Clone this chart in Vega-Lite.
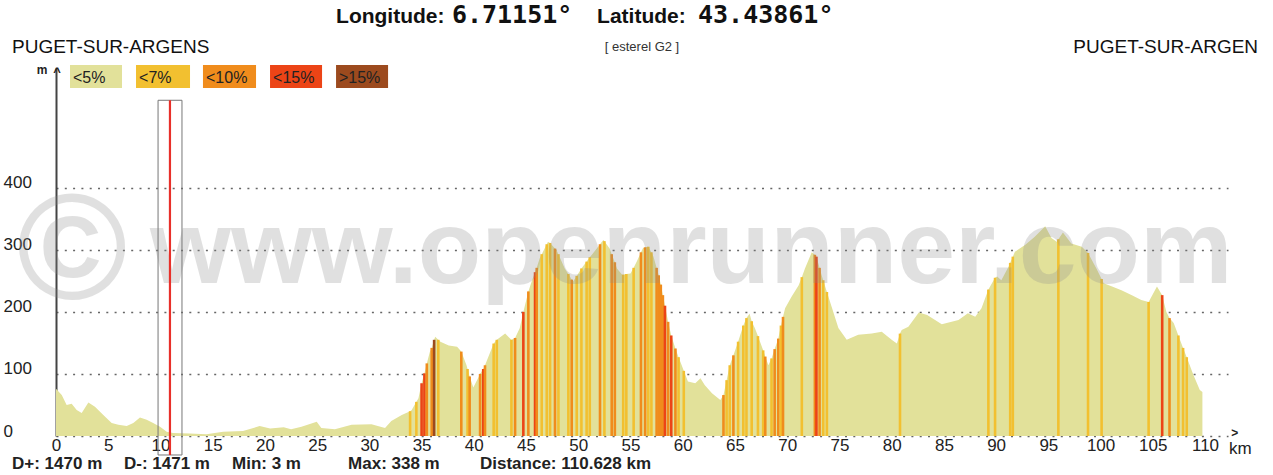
{
"$schema": "https://vega.github.io/schema/vega-lite/v6.json",
"width": 1172, "height": 368,
"autosize": {"type": "none"},
"padding": {"left": 56, "top": 68, "right": 45, "bottom": 39},
"background": "white",
"config": {"view": {"stroke": null}, "font": "Liberation Sans"},
"datasets": {"profile": [
{"km":0,"ele":76,"slope":"<5%"},{"km":0.55,"ele":66,"slope":"<5%"},{"km":1.02,"ele":50,"slope":"<5%"},{"km":1.5,"ele":52,"slope":"<5%"},{"km":1.98,"ele":42,"slope":"<5%"},{"km":2.46,"ele":37,"slope":"<5%"},{"km":3.1,"ele":54,"slope":"<5%"},{"km":3.73,"ele":47,"slope":"<5%"},{"km":4.53,"ele":34,"slope":"<5%"},{"km":5.33,"ele":21,"slope":"<5%"},{"km":5.97,"ele":18,"slope":"<5%"},{"km":6.77,"ele":16,"slope":"<5%"},{"km":7.4,"ele":21,"slope":"<5%"},{"km":8.04,"ele":30,"slope":"<5%"},{"km":8.68,"ele":26,"slope":"<5%"},{"km":9.3,"ele":21,"slope":"<5%"},{"km":9.96,"ele":15,"slope":"<5%"},{"km":10.6,"ele":7,"slope":"<5%"},{"km":11.2,"ele":5,"slope":"<5%"},{"km":12.8,"ele":4,"slope":"<5%"},{"km":14.4,"ele":3,"slope":"<5%"},{"km":16,"ele":7,"slope":"<5%"},{"km":17.9,"ele":8,"slope":"<5%"},{"km":19.5,"ele":16,"slope":"<5%"},{"km":20.5,"ele":12,"slope":"<5%"},{"km":21.8,"ele":14,"slope":"<5%"},{"km":22.5,"ele":11,"slope":"<5%"},{"km":23.5,"ele":15,"slope":"<5%"},{"km":24.96,"ele":23,"slope":"<5%"},{"km":25.4,"ele":13,"slope":"<5%"},{"km":26.7,"ele":11,"slope":"<5%"},{"km":28.3,"ele":18,"slope":"<5%"},{"km":30.2,"ele":19,"slope":"<5%"},{"km":31.5,"ele":13,"slope":"<5%"},{"km":32.1,"ele":24,"slope":"<5%"},{"km":33.1,"ele":34,"slope":"<5%"},
{"km":33.9,"ele":40,"slope":"<7%"},{"km":34.05,"ele":42,"slope":"<5%"},{"km":34.5,"ele":55,"slope":"<7%"},{"km":34.7,"ele":61,"slope":"<5%"},{"km":35.0,"ele":85,"slope":"<15%"},{"km":35.27,"ele":101,"slope":"<15%"},{"km":35.5,"ele":117,"slope":"<10%"},{"km":35.8,"ele":136,"slope":"<5%"},{"km":35.97,"ele":142,"slope":"<10%"},{"km":36.2,"ele":155,"slope":">15%"},{"km":36.3,"ele":160,"slope":"<5%"},{"km":36.6,"ele":155,"slope":"<7%"},{"km":36.8,"ele":152,"slope":"<5%"},{"km":37.6,"ele":146,"slope":"<5%"},{"km":38.4,"ele":144,"slope":"<5%"},{"km":38.8,"ele":136,"slope":"<10%"},{"km":39.3,"ele":114,"slope":"<5%"},{"km":39.4,"ele":108,"slope":"<7%"},{"km":39.6,"ele":96,"slope":"<10%"},{"km":39.95,"ele":78,"slope":"<5%"},{"km":40.4,"ele":93,"slope":"<5%"},{"km":40.6,"ele":100,"slope":"<10%"},{"km":40.9,"ele":108,"slope":"<15%"},{"km":41.07,"ele":114,"slope":"<10%"},{"km":41.9,"ele":149,"slope":"<7%"},{"km":42.2,"ele":155,"slope":"<7%"},{"km":43.0,"ele":165,"slope":"<5%"},{"km":43.6,"ele":155,"slope":"<7%"},{"km":43.95,"ele":158,"slope":"<10%"},{"km":44.4,"ele":174,"slope":"<5%"},{"km":44.74,"ele":200,"slope":"<15%"},{"km":45.22,"ele":233,"slope":"<10%"},{"km":45.7,"ele":257,"slope":"<5%"},{"km":45.86,"ele":264,"slope":"<15%"},{"km":46.02,"ele":271,"slope":"<10%"},{"km":46.3,"ele":286,"slope":"<5%"},{"km":46.5,"ele":293,"slope":"<7%"},{"km":46.98,"ele":309,"slope":"<7%"},{"km":47.1,"ele":313,"slope":"<5%"},{"km":47.3,"ele":311,"slope":"<7%"},{"km":47.77,"ele":302,"slope":"<10%"},{"km":47.9,"ele":300,"slope":"<5%"},{"km":48.1,"ele":293,"slope":"<7%"},{"km":48.7,"ele":270,"slope":"<5%"},{"km":49.05,"ele":261,"slope":"<7%"},{"km":49.37,"ele":252,"slope":"<10%"},{"km":49.5,"ele":249,"slope":"<5%"},{"km":49.85,"ele":258,"slope":"<7%"},{"km":50.3,"ele":270,"slope":"<7%"},{"km":50.8,"ele":281,"slope":"<7%"},{"km":51.1,"ele":288,"slope":"<7%"},{"km":51.3,"ele":292,"slope":"<5%"},{"km":51.9,"ele":305,"slope":"<5%"},{"km":52.08,"ele":309,"slope":"<10%"},{"km":52.4,"ele":316,"slope":"<5%"},{"km":52.5,"ele":314,"slope":"<7%"},{"km":53.0,"ele":302,"slope":"<5%"},{"km":53.2,"ele":293,"slope":"<10%"},{"km":53.5,"ele":280,"slope":"<10%"},{"km":53.7,"ele":270,"slope":"<5%"},{"km":54.2,"ele":260,"slope":"<5%"},{"km":54.3,"ele":260,"slope":"<7%"},{"km":54.6,"ele":261,"slope":"<7%"},{"km":55.0,"ele":262,"slope":"<5%"},{"km":55.3,"ele":271,"slope":"<7%"},{"km":55.6,"ele":281,"slope":"<5%"},{"km":56.0,"ele":296,"slope":"<10%"},{"km":56.2,"ele":303,"slope":"<5%"},{"km":56.4,"ele":304,"slope":"<10%"},{"km":56.7,"ele":305,"slope":"<7%"},{"km":57.0,"ele":296,"slope":"<7%"},{"km":57.2,"ele":289,"slope":"<5%"},{"km":57.5,"ele":271,"slope":"<10%"},{"km":57.7,"ele":259,"slope":"<10%"},{"km":57.9,"ele":244,"slope":"<10%"},{"km":58.1,"ele":227,"slope":"<10%"},{"km":58.3,"ele":210,"slope":"<15%"},{"km":58.6,"ele":184,"slope":"<10%"},{"km":58.9,"ele":162,"slope":"<15%"},{"km":59.3,"ele":141,"slope":"<10%"},{"km":59.6,"ele":127,"slope":"<7%"},{"km":59.9,"ele":114,"slope":"<5%"},{"km":60.1,"ele":105,"slope":"<7%"},{"km":60.5,"ele":88,"slope":"<5%"},{"km":61.2,"ele":85,"slope":"<5%"},{"km":61.7,"ele":93,"slope":"<5%"},{"km":62.1,"ele":82,"slope":"<5%"},{"km":62.8,"ele":69,"slope":"<5%"},{"km":63.6,"ele":58,"slope":"<5%"},{"km":63.9,"ele":66,"slope":"<10%"},{"km":64.2,"ele":90,"slope":"<7%"},{"km":64.5,"ele":114,"slope":"<7%"},{"km":64.85,"ele":130,"slope":"<10%"},{"km":65.3,"ele":152,"slope":"<7%"},{"km":65.8,"ele":178,"slope":"<7%"},{"km":66.1,"ele":190,"slope":"<7%"},{"km":66.4,"ele":197,"slope":"<5%"},{"km":66.6,"ele":185,"slope":"<7%"},{"km":66.9,"ele":174,"slope":"<5%"},{"km":67.2,"ele":161,"slope":"<7%"},{"km":67.4,"ele":152,"slope":"<5%"},{"km":67.7,"ele":138,"slope":"<7%"},{"km":67.9,"ele":128,"slope":"<10%"},{"km":68.2,"ele":114,"slope":"<5%"},{"km":68.5,"ele":125,"slope":"<7%"},{"km":68.8,"ele":140,"slope":"<10%"},{"km":69.15,"ele":157,"slope":"<10%"},{"km":69.4,"ele":178,"slope":"<7%"},{"km":69.6,"ele":192,"slope":"<10%"},{"km":69.8,"ele":206,"slope":"<5%"},{"km":70.4,"ele":224,"slope":"<5%"},{"km":71.1,"ele":243,"slope":"<5%"},{"km":71.4,"ele":256,"slope":"<7%"},{"km":71.7,"ele":270,"slope":"<5%"},{"km":72.35,"ele":296,"slope":"<5%"},{"km":72.65,"ele":292,"slope":"<10%"},{"km":72.8,"ele":289,"slope":"<15%"},{"km":73.1,"ele":271,"slope":"<10%"},{"km":73.3,"ele":259,"slope":"<5%"},{"km":73.45,"ele":251,"slope":"<7%"},{"km":73.8,"ele":232,"slope":"<7%"},{"km":74.3,"ele":206,"slope":"<5%"},{"km":74.9,"ele":174,"slope":"<5%"},{"km":75.7,"ele":155,"slope":"<5%"},{"km":76.8,"ele":163,"slope":"<5%"},{"km":78.1,"ele":165,"slope":"<5%"},{"km":79.05,"ele":168,"slope":"<5%"},{"km":80.0,"ele":155,"slope":"<5%"},{"km":80.5,"ele":149,"slope":"<5%"},{"km":80.8,"ele":165,"slope":"<7%"},{"km":80.96,"ele":171,"slope":"<5%"},{"km":81.6,"ele":176,"slope":"<5%"},{"km":82.6,"ele":199,"slope":"<5%"},{"km":83.4,"ele":195,"slope":"<5%"},{"km":84.8,"ele":180,"slope":"<5%"},{"km":86.4,"ele":187,"slope":"<5%"},{"km":87.3,"ele":198,"slope":"<5%"},{"km":88.0,"ele":192,"slope":"<5%"},{"km":88.6,"ele":206,"slope":"<5%"},{"km":89.26,"ele":236,"slope":"<7%"},{"km":89.9,"ele":255,"slope":"<7%"},{"km":90.1,"ele":257,"slope":"<5%"},{"km":90.5,"ele":251,"slope":"<5%"},{"km":91.2,"ele":273,"slope":"<5%"},{"km":91.35,"ele":279,"slope":"<7%"},{"km":91.6,"ele":289,"slope":"<7%"},{"km":91.8,"ele":297,"slope":"<5%"},{"km":92.8,"ele":308,"slope":"<5%"},{"km":93.7,"ele":321,"slope":"<5%"},{"km":94.7,"ele":338,"slope":"<5%"},{"km":95.3,"ele":319,"slope":"<5%"},{"km":95.8,"ele":313,"slope":"<5%"},{"km":95.96,"ele":317,"slope":"<7%"},{"km":96.4,"ele":328,"slope":"<5%"},{"km":97.2,"ele":310,"slope":"<5%"},{"km":98.2,"ele":305,"slope":"<5%"},{"km":98.8,"ele":295,"slope":"<7%"},{"km":99.6,"ele":270,"slope":"<5%"},{"km":100.1,"ele":253,"slope":"<7%"},{"km":100.3,"ele":246,"slope":"<5%"},{"km":101.1,"ele":241,"slope":"<5%"},{"km":102.0,"ele":235,"slope":"<5%"},{"km":103.0,"ele":227,"slope":"<5%"},{"km":103.9,"ele":219,"slope":"<5%"},{"km":104.6,"ele":216,"slope":"<7%"},{"km":105.4,"ele":241,"slope":"<5%"},{"km":105.9,"ele":227,"slope":"<15%"},{"km":106.3,"ele":200,"slope":"<5%"},{"km":106.6,"ele":190,"slope":"<10%"},{"km":107.0,"ele":182,"slope":"<5%"},{"km":107.45,"ele":162,"slope":"<7%"},{"km":107.6,"ele":155,"slope":"<5%"},{"km":107.9,"ele":142,"slope":"<7%"},{"km":108.25,"ele":127,"slope":"<7%"},{"km":108.9,"ele":98,"slope":"<5%"},{"km":109.5,"ele":74,"slope":"<5%"},{"km":109.75,"ele":71,"slope":"<5%"}
]},
"layer": [
{"data": {"name": "profile"},
 "mark": {"type": "area", "color": "#e2e19a"},
 "encoding": {
  "x": {"field": "km", "type": "quantitative", "title": null, "scale": {"domain": [0, 112.2], "nice": false, "zero": false},
        "axis": {"values": [0,5,10,15,20,25,30,35,40,45,50,55,60,65,70,75,80,85,90,95,100,105,110], "title": null, "grid": false, "domain": false, "ticks": false, "tickSize": 0, "labelFontSize": 17, "labelColor": "#222", "labelPadding": 1, "labelFlush": false}},
  "y": {"field": "ele", "type": "quantitative", "title": null, "scale": {"domain": [0, 593], "nice": false},
        "axis": {"values": [0,100,200,300,400], "title": null, "grid": true, "gridColor": "#666", "gridDash": [2, 6.3], "gridWidth": 1.4, "domain": true, "domainColor": "#444", "domainWidth": 2, "ticks": false, "tickSize": 0, "labelAlign": "left", "labelBaseline": "alphabetic", "labelPadding": 53, "labelFontSize": 17, "labelColor": "#222"}}
 }},
{"data": {"name": "profile"},
 "transform": [{"filter": "datum.slope != '<5%'"}],
 "mark": {"type": "rule", "strokeWidth": 2.6},
 "encoding": {
  "x": {"field": "km", "type": "quantitative", "title": null},
  "y": {"field": "ele", "type": "quantitative", "title": null},
  "y2": {"datum": 0},
  "color": {"field": "slope", "type": "nominal", "legend": null,
            "scale": {"domain": ["<5%","<7%","<10%","<15%",">15%"], "range": ["#e2e19a","#f2c030","#f08c1c","#ec4416","#9c4a1e"]}}
 }},
{"data": {"values": [{}]},
 "mark": {"type": "text", "text": "©", "fontWeight": "bold", "fontSize": 150, "fill": "#8c8c8c", "opacity": 0.26, "align": "center", "baseline": "alphabetic"},
 "encoding": {"x": {"datum": 1.53}, "y": {"datum": 221}}},
{"data": {"values": [{}]},
 "mark": {"type": "text", "text": "www.openrunner.com", "fontWeight": "bold", "fontSize": 104, "fill": "#8c8c8c", "opacity": 0.26, "align": "left", "baseline": "alphabetic"},
 "encoding": {"x": {"datum": 9.0}, "y": {"datum": 246}}},
{"data": {"values": [{}]},
 "mark": {"type": "rect", "filled": false, "stroke": "#777", "strokeWidth": 1},
 "encoding": {"x": {"datum": 9.77}, "x2": {"datum": 12.06}, "y": {"datum": 541}, "y2": {"datum": -30.6}}},
{"data": {"values": [{}]},
 "mark": {"type": "rule", "color": "#e8302a", "strokeWidth": 2.2},
 "encoding": {"x": {"datum": 10.91}, "y": {"datum": 541}, "y2": {"datum": -30.6}}},
{"data": {"values": [{}]}, "mark": {"type": "rect", "color": "#e2e19a"},
 "encoding": {"x": {"datum": 1.34}, "x2": {"datum": 6.32}, "y": {"datum": 597.8}, "y2": {"datum": 560.7}}},
{"data": {"values": [{}]}, "mark": {"type": "rect", "color": "#f2c030"},
 "encoding": {"x": {"datum": 7.66}, "x2": {"datum": 12.83}, "y": {"datum": 597.8}, "y2": {"datum": 560.7}}},
{"data": {"values": [{}]}, "mark": {"type": "rect", "color": "#f08c1c"},
 "encoding": {"x": {"datum": 14.07}, "x2": {"datum": 19.15}, "y": {"datum": 597.8}, "y2": {"datum": 560.7}}},
{"data": {"values": [{}]}, "mark": {"type": "rect", "color": "#ec4416"},
 "encoding": {"x": {"datum": 20.49}, "x2": {"datum": 25.47}, "y": {"datum": 597.8}, "y2": {"datum": 560.7}}},
{"data": {"values": [{}]}, "mark": {"type": "rect", "color": "#9c4a1e"},
 "encoding": {"x": {"datum": 26.81}, "x2": {"datum": 31.79}, "y": {"datum": 597.8}, "y2": {"datum": 560.7}}},
{"data": {"values": [{}]}, "mark": {"type": "text", "text": "<5%", "fontSize": 16, "fill": "#222", "align": "left", "baseline": "alphabetic"},
 "encoding": {"x": {"datum": 1.63}, "y": {"datum": 568.8}}},
{"data": {"values": [{}]}, "mark": {"type": "text", "text": "<7%", "fontSize": 16, "fill": "#222", "align": "left", "baseline": "alphabetic"},
 "encoding": {"x": {"datum": 7.95}, "y": {"datum": 568.8}}},
{"data": {"values": [{}]}, "mark": {"type": "text", "text": "<10%", "fontSize": 16, "fill": "#222", "align": "left", "baseline": "alphabetic"},
 "encoding": {"x": {"datum": 14.36}, "y": {"datum": 568.8}}},
{"data": {"values": [{}]}, "mark": {"type": "text", "text": "<15%", "fontSize": 16, "fill": "#222", "align": "left", "baseline": "alphabetic"},
 "encoding": {"x": {"datum": 20.78}, "y": {"datum": 568.8}}},
{"data": {"values": [{}]}, "mark": {"type": "text", "text": ">15%", "fontSize": 16, "fill": "#222", "align": "left", "baseline": "alphabetic"},
 "encoding": {"x": {"datum": 27.09}, "y": {"datum": 568.8}}},
{"data": {"values": [{}]}, "mark": {"type": "text", "text": "PUGET-SUR-ARGENS", "fontSize": 19, "fill": "#111", "align": "left", "baseline": "alphabetic"},
 "encoding": {"x": {"datum": -4.21}, "y": {"datum": 617.2}}},
{"data": {"values": [{}]}, "mark": {"type": "text", "text": "PUGET-SUR-ARGEN", "fontSize": 19, "fill": "#111", "align": "right", "baseline": "alphabetic"},
 "encoding": {"x": {"datum": 115.08}, "y": {"datum": 617.2}}},
{"data": {"values": [{}]}, "mark": {"type": "text", "text": "[ esterel G2 ]", "fontSize": 13, "fill": "#333", "align": "center", "baseline": "alphabetic"},
 "encoding": {"x": {"datum": 56.1}, "y": {"datum": 620.4}}},
{"data": {"values": [{}]}, "mark": {"type": "text", "text": "Longitude:", "fontSize": 21, "fontWeight": "bold", "fill": "#111", "align": "left", "baseline": "alphabetic"},
 "encoding": {"x": {"datum": 26.81}, "y": {"datum": 665.5}}},
{"data": {"values": [{}]}, "mark": {"type": "text", "text": "6.71151°", "font": "DejaVu Sans Mono", "fontSize": 25, "fontWeight": "bold", "fill": "#111", "align": "left", "baseline": "alphabetic"},
 "encoding": {"x": {"datum": 37.9}, "y": {"datum": 665.5}}},
{"data": {"values": [{}]}, "mark": {"type": "text", "text": "Latitude:", "fontSize": 21, "fontWeight": "bold", "fill": "#111", "align": "left", "baseline": "alphabetic"},
 "encoding": {"x": {"datum": 51.8}, "y": {"datum": 665.5}}},
{"data": {"values": [{}]}, "mark": {"type": "text", "text": "43.43861°", "font": "DejaVu Sans Mono", "fontSize": 25, "fontWeight": "bold", "fill": "#111", "align": "left", "baseline": "alphabetic"},
 "encoding": {"x": {"datum": 61.46}, "y": {"datum": 665.5}}},
{"data": {"values": [{}]}, "mark": {"type": "text", "text": "D+: 1470 m", "fontSize": 17, "fontWeight": "bold", "fill": "#222", "align": "left", "baseline": "alphabetic"},
 "encoding": {"x": {"datum": -4.21}, "y": {"datum": -53.2}}},
{"data": {"values": [{}]}, "mark": {"type": "text", "text": "D-: 1471 m", "fontSize": 17, "fontWeight": "bold", "fill": "#222", "align": "left", "baseline": "alphabetic"},
 "encoding": {"x": {"datum": 6.51}, "y": {"datum": -53.2}}},
{"data": {"values": [{}]}, "mark": {"type": "text", "text": "Min: 3 m", "fontSize": 17, "fontWeight": "bold", "fill": "#222", "align": "left", "baseline": "alphabetic"},
 "encoding": {"x": {"datum": 16.85}, "y": {"datum": -53.2}}},
{"data": {"values": [{}]}, "mark": {"type": "text", "text": "Max: 338 m", "fontSize": 17, "fontWeight": "bold", "fill": "#222", "align": "left", "baseline": "alphabetic"},
 "encoding": {"x": {"datum": 27.96}, "y": {"datum": -53.2}}},
{"data": {"values": [{}]}, "mark": {"type": "text", "text": "Distance: 110.628 km", "fontSize": 17, "fontWeight": "bold", "fill": "#222", "align": "left", "baseline": "alphabetic"},
 "encoding": {"x": {"datum": 40.59}, "y": {"datum": -53.2}}},
{"data": {"values": [{}]}, "mark": {"type": "text", "text": "m", "fontSize": 12, "fontWeight": "bold", "fill": "#222", "align": "center", "baseline": "alphabetic"},
 "encoding": {"x": {"datum": -1.34}, "y": {"datum": 583.3}}},
{"data": {"values": [{}]}, "mark": {"type": "text", "text": "^", "fontSize": 13, "fontWeight": "bold", "fill": "#222", "align": "center", "baseline": "alphabetic"},
 "encoding": {"x": {"datum": 0.1}, "y": {"datum": 580}}},
{"data": {"values": [{}]}, "mark": {"type": "text", "text": ">", "fontSize": 12, "fontWeight": "bold", "fill": "#222", "align": "center", "baseline": "alphabetic"},
 "encoding": {"x": {"datum": 112.85}, "y": {"datum": -1.0}}},
{"data": {"values": [{}]}, "mark": {"type": "text", "text": "km", "fontSize": 17, "fill": "#222", "align": "left", "baseline": "alphabetic"},
 "encoding": {"x": {"datum": 112.3}, "y": {"datum": -29}}}
]
}
